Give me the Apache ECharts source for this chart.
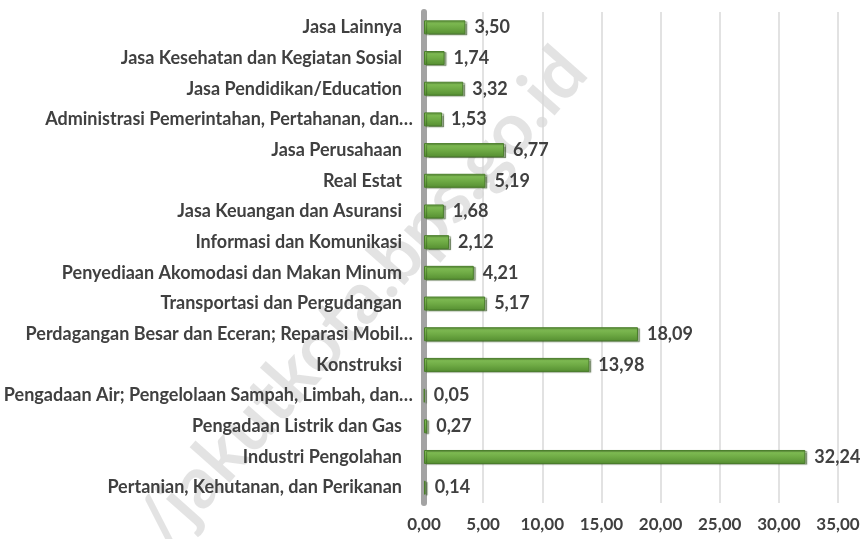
<!DOCTYPE html>
<html>
<head>
<meta charset="utf-8">
<script src="https://cdn.jsdelivr.net/npm/echarts@6/dist/echarts.min.js"></script>
<style>
  html, body { margin: 0; padding: 0; background: #fff; }
  #chart { width: 860px; height: 539px; }
</style>
</head>
<body>
<div id="chart"></div>
<script>
// kategori dari atas ke bawah
const categories = [
  "Jasa Lainnya",
  "Jasa Kesehatan dan Kegiatan Sosial",
  "Jasa Pendidikan/Education",
  "Administrasi Pemerintahan, Pertahanan, dan…",
  "Jasa Perusahaan",
  "Real Estat",
  "Jasa Keuangan dan Asuransi",
  "Informasi dan Komunikasi",
  "Penyediaan Akomodasi dan Makan Minum",
  "Transportasi dan Pergudangan",
  "Perdagangan Besar dan Eceran; Reparasi Mobil…",
  "Konstruksi",
  "Pengadaan Air; Pengelolaan Sampah, Limbah, dan…",
  "Pengadaan Listrik dan Gas",
  "Industri Pengolahan",
  "Pertanian, Kehutanan, dan Perikanan"
];
const values = [3.50, 1.74, 3.32, 1.53, 6.77, 5.19, 1.68, 2.12, 4.21, 5.17, 18.09, 13.98, 0.05, 0.27, 32.24, 0.14];
const xTicks = [0, 5, 10, 15, 20, 25, 30, 35];

const FONT = "Lato, Roboto, 'Liberation Sans', sans-serif";
const TEXT = "#404040";
const fmt = (v) => Number(v).toFixed(2).replace(".", ",");

const chart = echarts.init(document.getElementById("chart"));

chart.setOption({
  animation: false,
  backgroundColor: "#fff",
  grid: { left: 424, right: 22, top: 12, bottom: 36, containLabel: false, outerBoundsMode: "none" },
  xAxis: {
    type: "value",
    min: xTicks[0],
    max: xTicks[xTicks.length - 1],
    interval: 5,
    axisLine: { show: false },
    axisTick: { show: false },
    splitLine: { show: true, lineStyle: { color: "#d9d9d9", width: 1.5 } },
    axisLabel: {
      margin: 13,
      color: TEXT,
      fontFamily: FONT,
      fontWeight: "bold",
      fontSize: 17,
      formatter: fmt
    }
  },
  yAxis: {
    type: "category",
    inverse: true,
    data: categories,
    axisLine: { show: true, lineStyle: { color: "#a3a3a3", width: 6 } },
    axisTick: { show: false },
    splitLine: { show: false },
    axisLabel: {
      margin: 11,
      color: TEXT,
      fontFamily: FONT,
      fontWeight: "bold",
      fontSize: 18,
      // label yang terpotong (…) sedikit lebih ke kanan, seperti di Excel
      formatter: (v) => v.endsWith("…") ? "{t|" + v + "}" : "{n|" + v + "}",
      rich: {
        n: { padding: [0, 11, 0, 0], color: TEXT, fontFamily: FONT, fontWeight: "bold", fontSize: 18 },
        t: { padding: [0, 0, 0, 0], color: TEXT, fontFamily: FONT, fontWeight: "bold", fontSize: 18 }
      }
    }
  },
  graphic: [{
    type: "text",
    z: -1,
    x: 362,
    y: 298,
    rotation: 48.5 * Math.PI / 180,
    silent: true,
    style: {
      text: "/jakutkota.bps.go.id",
      font: "bold 72px " + FONT,
      fill: "rgba(0,0,0,0.11)",
      align: "center",
      verticalAlign: "middle"
    }
  }],
  series: [{
    type: "bar",
    data: values,
    barWidth: 14,
    itemStyle: {
      color: new echarts.graphic.LinearGradient(0, 0, 0, 1, [
        { offset: 0, color: "#86c25a" },
        { offset: 0.5, color: "#6fab45" },
        { offset: 1, color: "#558e31" }
      ]),
      borderColor: "#4a7d2b",
      borderWidth: 1,
      shadowColor: "rgba(40,70,20,0.45)",
      shadowOffsetX: 2,
      shadowOffsetY: 1,
      shadowBlur: 1
    },
    label: {
      show: true,
      position: "right",
      distance: 9,
      color: TEXT,
      fontFamily: FONT,
      fontWeight: "bold",
      fontSize: 18,
      formatter: (p) => fmt(p.value)
    }
  }]
});
</script>
</body>
</html>
